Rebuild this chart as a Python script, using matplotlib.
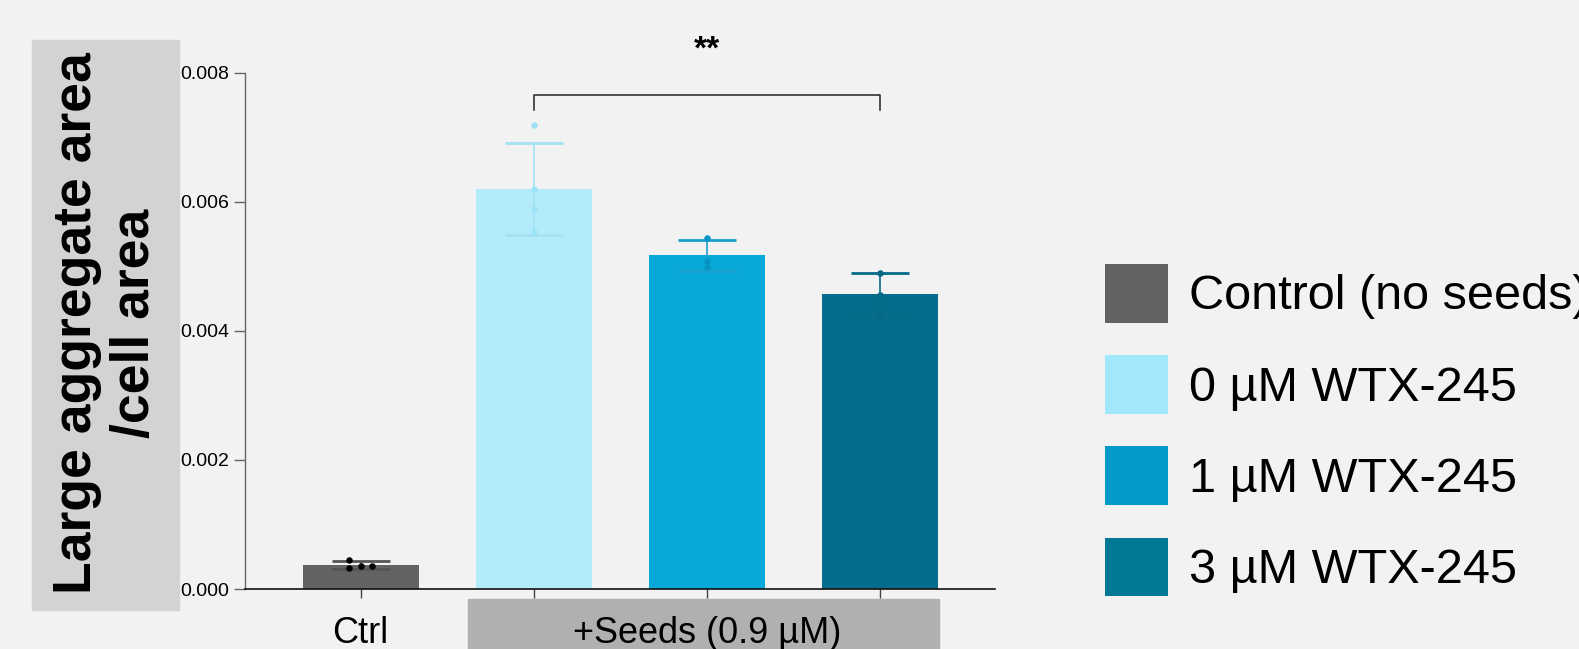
import matplotlib
matplotlib.use("Agg")
import matplotlib.pyplot as plt
import numpy as np
from matplotlib.patches import Patch, Rectangle
from matplotlib.transforms import blended_transform_factory

plt.rcParams['font.family'] = ['Liberation Sans', 'DejaVu Sans']

# valores (pontos individuais por grupo)
group_names = ['Ctrl', '0 µM WTX-245', '1 µM WTX-245', '3 µM WTX-245']
ctrl_points = [0.00045, 0.00032, 0.00036, 0.00036]
wtx0_points = [0.00718, 0.00619, 0.00588, 0.00553]
wtx1_points = [0.00544, 0.00508, 0.00499]
wtx3_points = [0.00489, 0.00456, 0.00424]
legend_labels = ['Control (no seeds)', '0 µM WTX-245', '1 µM WTX-245', '3 µM WTX-245']
yticks = [0.000, 0.002, 0.004, 0.006, 0.008]

bar_colors = ['#636363', '#b3ebfa', '#08a9d9', '#046d8b']
err_colors = ['#555555', '#a3e2f3', '#1a9fcc', '#066b88']
dot_colors = ['#000000', '#9de3f7', '#0796c3', '#056885']
legend_colors = ['#636363', '#a2e8fc', '#049bc8', '#037796']
bg = '#f2f2f2'

all_points = [ctrl_points, wtx0_points, wtx1_points, wtx3_points]
means = [np.mean(p) for p in all_points]
sds = [np.std(p, ddof=1) for p in all_points]
pos = np.arange(len(all_points))

fig = plt.figure(figsize=(15.79, 6.49), dpi=100, facecolor=bg)
ax = fig.add_axes([245 / 1579, 1 - 589 / 649, 750 / 1579, 516.5 / 649])
ax.set_facecolor(bg)

ax.bar(pos, means, width=0.67, color=bar_colors, zorder=2)
for i in pos:
    ax.errorbar(pos[i], means[i], yerr=sds[i], color=err_colors[i], capsize=21,
                elinewidth=1.2, capthick=2, zorder=3)
    pts = all_points[i]
    if i == 0:
        offs = [-0.065, -0.065, 0.0, 0.065]
    else:
        offs = [0.0] * len(pts)
    ax.scatter(pos[i] + np.array(offs), pts, s=22, color=dot_colors[i], zorder=4,
               linewidths=0)

ax.set_xlim(-0.667, 3.663)
ax.set_ylim(0, 0.008)
ax.set_yticks(yticks)
ax.set_yticklabels([f'{v:.3f}' for v in yticks], fontsize=14)
ax.set_xticks(pos)
ax.set_xticklabels([])
ax.tick_params(axis='y', length=7.7, width=1, color='#666666')
ax.tick_params(axis='x', length=6.7, width=1, color='#444444')
for s in ['top', 'right']:
    ax.spines[s].set_visible(False)
ax.spines['left'].set_color('#666666')
ax.spines['bottom'].set_color('#111111')
ax.spines['left'].set_linewidth(1)
ax.spines['bottom'].set_linewidth(1.2)

# colchete de significância
ax.plot([1, 1, 3, 3], [0.00742, 0.007656, 0.007656, 0.00742], color='#222222', lw=1.1,
        clip_on=False)
ax.text(2, 0.00834, '**', ha='center', va='center', fontsize=24, fontweight='bold')

# caixa "+Seeds" e rótulo Ctrl
tr = blended_transform_factory(ax.transData, ax.transAxes)
ax.add_patch(Rectangle((0.62, -0.12), 2.717, 0.1006, transform=tr, color='#b0b0b0',
                       clip_on=False, zorder=1))
ax.text(0, -0.087, 'Ctrl', transform=tr, ha='center', va='center', fontsize=26)
ax.text(2, -0.087, '+Seeds (0.9 µM)', transform=tr, ha='center', va='center', fontsize=26)

# rótulo do eixo y com caixa cinza
fig.patches.append(Rectangle((32 / 1579, 1 - 610 / 649), 147 / 1579, 570 / 649,
                             transform=fig.transFigure, color='#d3d3d3', zorder=0))
fig.text(106 / 1579, 1 - 323 / 649, 'Large aggregate area\n/cell area', rotation=90,
         ha='center', va='center', fontsize=38.5, fontweight='bold', linespacing=1.2,
         multialignment='center')

handles = [Patch(facecolor=c, edgecolor='none') for c in legend_colors]
fig.legend(handles, legend_labels, loc='upper left',
           bbox_to_anchor=(1105 / 1579, 1 - 264 / 649), frameon=False, fontsize=35,
           handlelength=1.3, handleheight=1.48, handletextpad=0.42, labelspacing=0.67,
           borderpad=0, borderaxespad=0)

fig.savefig('out.png', dpi=100, facecolor=bg)
